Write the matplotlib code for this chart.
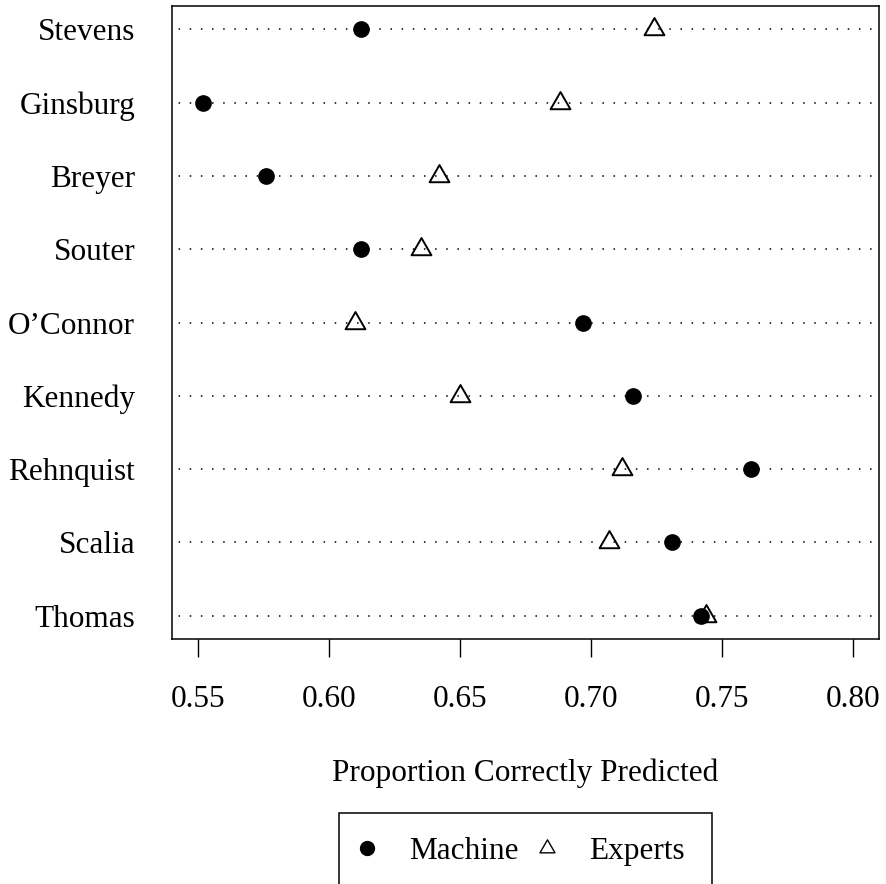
import matplotlib
matplotlib.use('Agg')
import matplotlib.pyplot as plt
from matplotlib.lines import Line2D
from matplotlib.patches import Rectangle
from matplotlib.path import Path

plt.rcParams['font.family'] = ['Liberation Serif', 'DejaVu Serif']

# bottom to top
justices = ['Thomas', 'Scalia', 'Rehnquist', 'Kennedy', 'O\u2019Connor',
            'Souter', 'Breyer', 'Ginsburg', 'Stevens']
machine = [0.742, 0.731, 0.761, 0.716, 0.697, 0.612, 0.576, 0.552, 0.612]
experts = [0.744, 0.707, 0.712, 0.650, 0.610, 0.635, 0.642, 0.688, 0.724]
xticks = [0.55, 0.60, 0.65, 0.70, 0.75, 0.80]

FS = 22.5
W, H = 887, 884
fig = plt.figure(figsize=(W / 100, H / 100), dpi=100)
ax = fig.add_axes([172 / W, 1 - 639 / H, (879 - 172) / W, (639 - 6) / H])

# R style triangle (pch=2), centred on its centroid
tri = Path([(0, 1), (-0.866, -0.5), (0.866, -0.5), (0, 1)],
           [Path.MOVETO, Path.LINETO, Path.LINETO, Path.CLOSEPOLY])

ypos = list(range(1, len(justices) + 1))
for y in ypos:
    ax.axhline(y, color='black', lw=1.1, ls=(3, (1, 6.3)), zorder=1)

ax.plot(machine, ypos, ls='none', marker='o', ms=11, mfc='black',
        mec='black', mew=1, zorder=3)
ax.plot(experts, ypos, ls='none', marker=tri, ms=16.5, mfc='none',
        mec='black', mew=1.4, zorder=3)

ax.set_xlim(0.54, 0.81)
ax.set_ylim(0.68, len(justices) + 0.32)
ax.set_xticks(xticks)
ax.set_xticklabels(['%.2f' % t for t in xticks])
ax.set_yticks(ypos)
ax.set_yticklabels(justices)
ax.tick_params(axis='x', length=13, width=1.0, pad=20, labelsize=FS)
ax.tick_params(axis='y', length=0, pad=26.5, labelsize=FS)
for s in ax.spines.values():
    s.set_linewidth(1.1)

ax.set_xlabel('Proportion Correctly Predicted', fontsize=FS, va='baseline')
ax.xaxis.set_label_coords(0.5, -(781.5 - 639) / (639 - 6))

# legend, box runs off the bottom like the original
handles = [Line2D([], [], ls='none', marker='o', ms=10, color='black'),
           Line2D([], [], ls='none', marker=tri, ms=12.5, mfc='none',
                  mec='black', mew=1.0)]
fig.legend(handles, ['Machine', 'Experts'], ncol=2, frameon=False,
           loc='center left', bbox_to_anchor=(351.7 / W, 1 - 851.7 / H),
           borderpad=0, borderaxespad=0, handlelength=1.0,
           handletextpad=0.84, columnspacing=0.4, fontsize=FS)
fig.add_artist(Rectangle((339 / W, 1 - 905 / H), (712 - 339) / W, (905 - 813) / H,
                         transform=fig.transFigure, fill=False,
                         edgecolor='black', lw=1.1))

fig.savefig('out.png', dpi=100)
